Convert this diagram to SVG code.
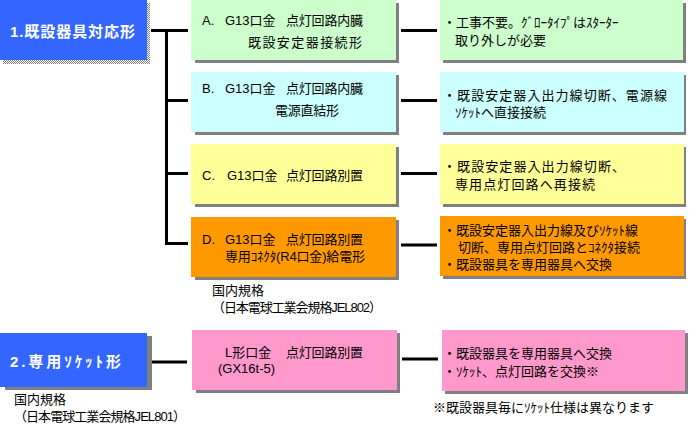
<svg xmlns="http://www.w3.org/2000/svg" width="700" height="431" viewBox="0 0 700 431">
<defs>
<pattern id="hatch" width="2" height="2" patternUnits="userSpaceOnUse">
<rect width="2" height="2" fill="#ffffff"/>
<rect width="1" height="1" fill="#808080"/>
<rect x="1" y="1" width="1" height="1" fill="#808080"/>
</pattern>
<style>
text{font-family:"Liberation Sans","Noto Sans CJK JP",sans-serif;font-size:13px;fill:#000}
.t{font-size:15px;font-weight:bold;fill:#fff}
.sh{fill:#808080}
.ln{stroke:#000;stroke-width:3;fill:none}
</style>
</defs>
<rect width="700" height="431" fill="#fff"/>

<g id="connectors">
<path class="ln" d="M151 30.5H188M166.5 30.5V245M166.5 100.5H188M166.5 173.5H188M166.5 243.5H188"/>
<path class="ln" d="M401 30.5H437M401 100.5H437M401 173.5H437M401 245H437"/>
<path class="ln" d="M152 362H187M402 359H438"/>
</g>

<g id="n1">
<rect x="3" y="3" width="147" height="61" fill="url(#hatch)"/>
<rect x="0" y="0" width="147" height="60" fill="#3366ff"/>
<text class="t" x="10" y="37" textLength="125" lengthAdjust="spacing">1.既設器具対応形</text>
</g>

<g id="nA">
<rect x="195" y="3" width="204" height="60" class="sh"/>
<rect x="191" y="0" width="205" height="60" fill="#ccffcc"/>
<text><tspan x="202" y="25">A.</tspan><tspan x="225" y="25">G13口金</tspan><tspan x="286" y="25" textLength="77" lengthAdjust="spacing">点灯回路内臓</tspan><tspan x="248" y="47" textLength="114" lengthAdjust="spacing">既設安定器接続形</tspan></text>
</g>

<g id="nB">
<rect x="195" y="75" width="204" height="60" class="sh"/>
<rect x="191" y="72" width="205" height="60" fill="#ccffff"/>
<text><tspan x="202" y="93">B.</tspan><tspan x="225" y="93">G13口金</tspan><tspan x="286" y="93" textLength="77" lengthAdjust="spacing">点灯回路内臓</tspan><tspan x="275" y="115" textLength="64" lengthAdjust="spacing">電源直結形</tspan></text>
</g>

<g id="nC">
<rect x="195" y="147" width="204" height="60" class="sh"/>
<rect x="191" y="144" width="205" height="60" fill="#ffff99"/>
<text><tspan x="202" y="180">C.</tspan><tspan x="227" y="180">G13口金</tspan><tspan x="286" y="180" textLength="77" lengthAdjust="spacing">点灯回路別置</tspan></text>
</g>

<g id="nD">
<rect x="195" y="220" width="204" height="60" class="sh"/>
<rect x="191" y="217" width="205" height="60" fill="#ff9900"/>
<text><tspan x="202" y="244">D.</tspan><tspan x="225" y="244">G13口金</tspan><tspan x="286" y="244" textLength="77" lengthAdjust="spacing">点灯回路別置</tspan><tspan x="225" y="261" textLength="140" lengthAdjust="spacing">専用ｺﾈｸﾀ(R4口金)給電形</tspan></text>
</g>

<g id="note1">
<text><tspan x="212" y="295">国内規格</tspan><tspan x="212" y="312" textLength="170" lengthAdjust="spacing">（日本電球工業会規格JEL802）</tspan></text>
</g>

<g id="rA">
<rect x="443" y="3" width="243" height="60" class="sh"/>
<rect x="440" y="0" width="243" height="60" fill="#ccffcc"/>
<text><tspan x="443" y="27">・工事不要。ｸﾞﾛｰﾀｲﾌﾟはｽﾀｰﾀｰ</tspan><tspan x="455" y="45">取り外しが必要</tspan></text>
</g>

<g id="rB">
<rect x="443" y="75" width="243" height="60" class="sh"/>
<rect x="440" y="72" width="244" height="60" fill="#ccffff"/>
<text><tspan x="443" y="100" textLength="224" lengthAdjust="spacing">・既設安定器入出力線切断、電源線</tspan><tspan x="455" y="117">ｿｹｯﾄへ直接接続</tspan></text>
</g>

<g id="rC">
<rect x="443" y="147" width="243" height="60" class="sh"/>
<rect x="440" y="144" width="244" height="60" fill="#ffff99"/>
<text><tspan x="443" y="171" textLength="182" lengthAdjust="spacing">・既設安定器入出力線切断、</tspan><tspan x="455" y="189" textLength="140" lengthAdjust="spacing">専用点灯回路へ再接続</tspan></text>
</g>

<g id="rD">
<rect x="443" y="219" width="243" height="60" class="sh"/>
<rect x="440" y="216" width="244" height="60" fill="#ff9900"/>
<text><tspan x="443" y="235">・既設安定器入出力線及びｿｹｯﾄ線</tspan><tspan x="458" y="252">切断、専用点灯回路とｺﾈｸﾀ接続</tspan><tspan x="443" y="269">・既設器具を専用器具へ交換</tspan></text>
</g>

<g id="n2">
<rect x="5" y="336" width="147" height="54" class="sh"/>
<rect x="0" y="333" width="147" height="54" fill="#3366ff"/>
<text class="t" x="10" y="367" textLength="111" lengthAdjust="spacing">2.専用ｿｹｯﾄ形</text>
</g>

<g id="note2">
<text><tspan x="14" y="404">国内規格</tspan><tspan x="14" y="421" textLength="172" lengthAdjust="spacing">（日本電球工業会規格JEL801）</tspan></text>
</g>

<g id="nL">
<rect x="196" y="333" width="204" height="60" class="sh"/>
<rect x="192" y="330" width="205" height="60" fill="#ff99cc"/>
<text><tspan x="225" y="357">L形口金</tspan><tspan x="286" y="357" textLength="77" lengthAdjust="spacing">点灯回路別置</tspan><tspan x="218" y="373">(GX16t-5)</tspan></text>
</g>

<g id="rL">
<rect x="445" y="333" width="243" height="61" class="sh"/>
<rect x="442" y="330" width="243" height="61" fill="#ff99cc"/>
<text><tspan x="443" y="358">・既設器具を専用器具へ交換</tspan><tspan x="443" y="376">・ｿｹｯﾄ、点灯回路を交換※</tspan></text>
</g>

<g id="note3">
<text x="433" y="412">※既設器具毎にｿｹｯﾄ仕様は異なります</text>
</g>
</svg>
